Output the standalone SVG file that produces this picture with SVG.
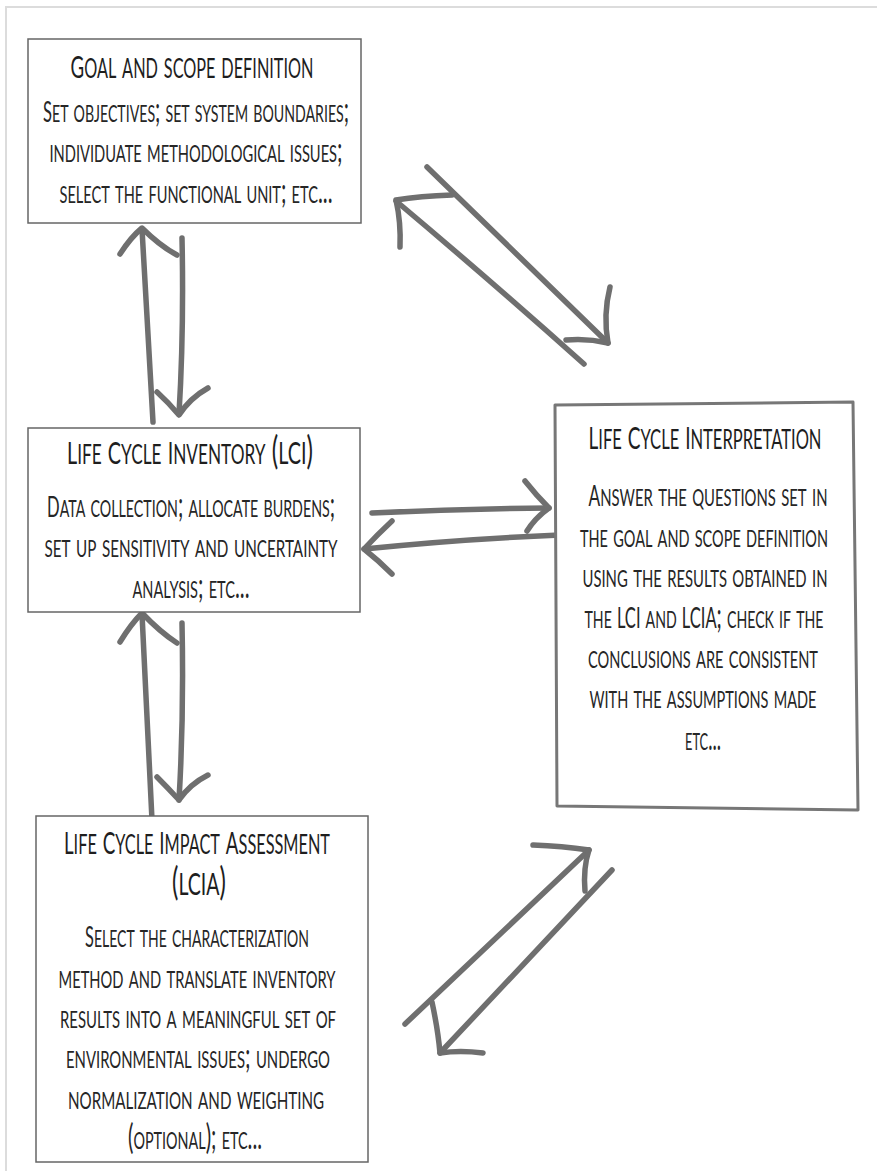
<svg xmlns="http://www.w3.org/2000/svg" width="877" height="1171" viewBox="0 0 877 1171">
  <defs>
    <style>
      .frame { fill: none; stroke: #dcdcdc; stroke-width: 2; }
      .box { fill: #ffffff; stroke: #666666; stroke-width: 1.5; }
      .box-heavy { fill: #ffffff; stroke: #777777; stroke-width: 3; stroke-linejoin: round; }
      .title { font-family: "Lato", "Liberation Sans", sans-serif; font-weight: 400; font-size: 38px; font-variant: small-caps; fill: #1e1e1e; text-anchor: middle; }
      .body { font-family: "Lato", "Liberation Sans", sans-serif; font-weight: 400; font-size: 34px; font-variant: small-caps; fill: #262626; text-anchor: middle; }
      .title .c { font-size: 31px; }
      .body .c { font-size: 28px; }
      .stroke { fill: none; stroke: #6f6f6f; stroke-width: 5.5; stroke-linecap: round; stroke-linejoin: round; }
    </style>
  </defs>

  <rect width="877" height="1171" fill="#ffffff"/>
  <path class="frame" d="M6,1171 L6,7 L877,7"/>

  <!-- hand-drawn double arrows between the stages -->
  <g id="connectors">
    <!-- goal <-> inventory -->
    <path class="stroke" d="M153,422 Q147,320 142,229"/>
    <path class="stroke" d="M120,254 Q131,237 142,228 Q160,246 177,255"/>
    <path class="stroke" d="M182,238 Q184,330 179,414"/>
    <path class="stroke" d="M157,392 Q168,402 179,415 Q190,398 208,388"/>

    <!-- inventory <-> impact assessment -->
    <path class="stroke" d="M152,820 Q147,715 142,614"/>
    <path class="stroke" d="M120,642 Q131,624 142,613 Q160,632 177,643"/>
    <path class="stroke" d="M182,623 Q184,715 179,800"/>
    <path class="stroke" d="M157,777 Q168,788 179,800 Q190,784 208,775"/>

    <!-- goal <-> interpretation -->
    <path class="stroke" d="M584,364 Q490,280 396,201"/>
    <path class="stroke" d="M452,195 Q420,196 396,200 Q401,222 400,247"/>
    <path class="stroke" d="M427,167 Q518,256 608,343"/>
    <path class="stroke" d="M610,287 Q603,315 608,343 Q587,338 566,340"/>

    <!-- inventory <-> interpretation -->
    <path class="stroke" d="M372,513 Q460,509 549,508"/>
    <path class="stroke" d="M525,481 Q536,495 549,508 Q535,518 527,531"/>
    <path class="stroke" d="M560,535 Q460,539 364,549"/>
    <path class="stroke" d="M392,521 Q377,535 364,549 Q378,560 392,574"/>

    <!-- impact assessment <-> interpretation -->
    <path class="stroke" d="M405,1024 Q497,937 589,850"/>
    <path class="stroke" d="M533,845 Q562,846 589,850 Q583,868 585,891"/>
    <path class="stroke" d="M612,870 Q526,962 440,1053"/>
    <path class="stroke" d="M432,1002 Q438,1030 440,1053 Q460,1050 483,1053"/>
  </g>

  <g id="goal-scope">
    <rect class="box" x="28" y="39" width="333" height="184"/>
    <text class="title" x="192" y="78" textLength="243" lengthAdjust="spacingAndGlyphs"><tspan class="c">G</tspan>oal and scope definition</text>
    <text class="body" x="196" y="122" textLength="306" lengthAdjust="spacingAndGlyphs"><tspan class="c">S</tspan>et objectives; set system boundaries;</text>
    <text class="body" x="196" y="162" textLength="293" lengthAdjust="spacingAndGlyphs">individuate methodological issues;</text>
    <text class="body" x="196" y="203" textLength="273" lengthAdjust="spacingAndGlyphs">select the functional unit; etc...</text>
  </g>

  <g id="inventory">
    <rect class="box" x="28" y="428" width="332" height="184"/>
    <text class="title" x="190" y="464" textLength="246" lengthAdjust="spacingAndGlyphs"><tspan class="c">L</tspan>ife <tspan class="c">C</tspan>ycle <tspan class="c">I</tspan>nventory (<tspan class="c">LCI</tspan>)</text>
    <text class="body" x="191" y="517" textLength="288" lengthAdjust="spacingAndGlyphs"><tspan class="c">D</tspan>ata collection; allocate burdens;</text>
    <text class="body" x="191" y="557" textLength="293" lengthAdjust="spacingAndGlyphs">set up sensitivity and uncertainty</text>
    <text class="body" x="191" y="598" textLength="117" lengthAdjust="spacingAndGlyphs">analysis; etc...</text>
  </g>

  <g id="interpretation">
    <path class="box-heavy" d="M555,405 L853,402 L858,810 L557,806 Z"/>
    <text class="title" x="705" y="449" textLength="233" lengthAdjust="spacingAndGlyphs"><tspan class="c">L</tspan>ife <tspan class="c">C</tspan>ycle <tspan class="c">I</tspan>nterpretation</text>
    <text class="body" x="708" y="506" textLength="239" lengthAdjust="spacingAndGlyphs"><tspan class="c">A</tspan>nswer the questions set in</text>
    <text class="body" x="704" y="547" textLength="248" lengthAdjust="spacingAndGlyphs">the goal and scope definition</text>
    <text class="body" x="705" y="587" textLength="245" lengthAdjust="spacingAndGlyphs">using the results obtained in</text>
    <text class="body" x="704" y="628" textLength="239" lengthAdjust="spacingAndGlyphs">the <tspan class="c">LCI</tspan> and <tspan class="c">LCIA</tspan>; check if the</text>
    <text class="body" x="703" y="668" textLength="230" lengthAdjust="spacingAndGlyphs">conclusions are consistent</text>
    <text class="body" x="703" y="708" textLength="227" lengthAdjust="spacingAndGlyphs">with the assumptions made</text>
    <text class="body" x="703" y="750" textLength="36" lengthAdjust="spacingAndGlyphs">etc...</text>
  </g>

  <g id="impact-assessment">
    <rect class="box" x="36" y="816" width="332" height="346"/>
    <text class="title" x="197" y="854" textLength="266" lengthAdjust="spacingAndGlyphs"><tspan class="c">L</tspan>ife <tspan class="c">C</tspan>ycle <tspan class="c">I</tspan>mpact <tspan class="c">A</tspan>ssessment</text>
    <text class="title" x="199" y="895" textLength="54" lengthAdjust="spacingAndGlyphs">(<tspan class="c">LCIA</tspan>)</text>
    <text class="body" x="197" y="947" textLength="224" lengthAdjust="spacingAndGlyphs"><tspan class="c">S</tspan>elect the characterization</text>
    <text class="body" x="197" y="988" textLength="277" lengthAdjust="spacingAndGlyphs">method and translate inventory</text>
    <text class="body" x="198" y="1028" textLength="276" lengthAdjust="spacingAndGlyphs">results into a meaningful set of</text>
    <text class="body" x="198" y="1068" textLength="264" lengthAdjust="spacingAndGlyphs">environmental issues; undergo</text>
    <text class="body" x="196" y="1109" textLength="256" lengthAdjust="spacingAndGlyphs">normalization and weighting</text>
    <text class="body" x="195" y="1149" textLength="134" lengthAdjust="spacingAndGlyphs">(optional); etc...</text>
  </g>
</svg>
